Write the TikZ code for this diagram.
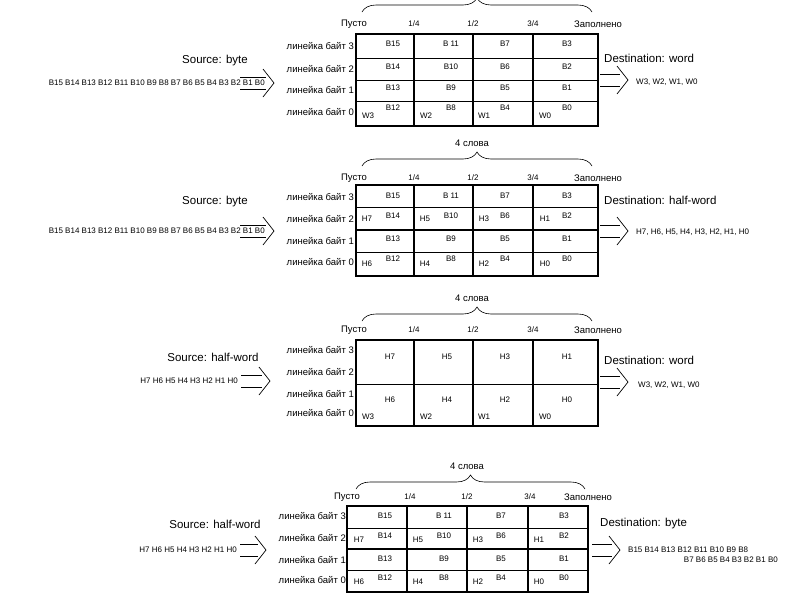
\documentclass[tikz,border=0pt]{standalone}
\usepackage{fontspec}
\setmainfont{Liberation Sans}
\usetikzlibrary{decorations.pathreplacing}
\tikzset{
 thk/.style={line width=2.4pt},
 thn/.style={line width=0.6pt},
 cell/.style={font=\fontsize{8}{9}\selectfont, inner sep=0pt},
 lab/.style={font=\fontsize{9.5}{10}\selectfont, inner sep=0pt},
 ttl/.style={font=\fontsize{11.5}{12}\selectfont, inner sep=0pt},
 brc/.style={decorate, decoration={brace, amplitude=14pt}, line width=0.6pt},
}
\newcommand\dblarr[3]{% x1,x2,y
 \draw[line width=0.7pt] (#1,#3-6) -- (#2,#3-6) (#1,#3+6) -- (#2,#3+6);
 \draw[line width=0.7pt] (#2-3,#3-14) -- (#2+8,#3) -- (#2-3,#3+14);}
\newcommand\fracs[6]{% x0 x1 x2 x3 x4 y
 \node[lab] at (#1-2,#6) {Пусто};
 \node[cell] at (#2,#6) {1/4};
 \node[cell] at (#3,#6) {1/2};
 \node[cell] at (#4,#6) {3/4};
 \node[lab] at (#5,#6) {Заполнено};}
\begin{document}
\begin{tikzpicture}[x=1pt,y=-1pt]
\clip (0,0) rectangle (785,595);
\fill[white] (0,0) rectangle (785,595);
% ================= Panel 1
\draw[brc] (362,12) -- (592,12);
\fracs{356}{414}{473}{533}{598}{24}
\foreach \y in {58,80,101}{\draw[thn] (356,\y) -- (598,\y);}
\foreach \x in {414,473,533}{\draw[thk] (\x,34) -- (\x,126);}
\draw[thk] (356,34) rectangle (598,126);
\foreach \t/\y in {3/46,2/69,1/90,0/112}{\node[lab,anchor=east] at (354,\y) {линейка байт \t};}
\foreach \a/\b/\c/\d [count=\i from 0] in {B15/B14/B13/B12, B 11/B10/B9/B8, B7/B6/B5/B4, B3/B2/B1/B0}{
 \pgfmathsetmacro\bx{{393,451,505,567}[\i]}
 \node[cell] at (\bx,44) {\a}; \node[cell] at (\bx,67) {\b};
 \node[cell] at (\bx,88) {\c}; \node[cell] at (\bx,108) {\d};}
\foreach \w/\x in {W3/368,W2/426,W1/484,W0/545}{\node[cell] at (\x,116) {\w};}
\node[ttl] at (215,61) {Source: byte};
\node[cell,anchor=east] at (265,83) {B15 B14 B13 B12 B11 B10 B9 B8 B7 B6 B5 B4 B3 B2 B1 B0};
\dblarr{240}{266}{83}
\dblarr{600}{620}{80}
\node[ttl,anchor=west] at (604,58) {Destination: word};
\node[cell,anchor=west] at (636,82) {W3, W2, W1, W0};
% ================= Panel 2
\node[lab] at (472,143) {4 слова};
\draw[brc] (362,166) -- (592,166);
\fracs{356}{414}{473}{533}{598}{178}
\foreach \y in {207,252}{\draw[thn] (356,\y) -- (598,\y);}
\draw[thk] (356,230) -- (598,230);
\foreach \x in {414,473,533}{\draw[thk] (\x,185) -- (\x,276);}
\draw[thk] (356,185) rectangle (598,276);
\foreach \t/\y in {3/197,2/219,1/241,0/262}{\node[lab,anchor=east] at (354,\y) {линейка байт \t};}
\foreach \a/\b/\c/\d [count=\i from 0] in {B15/B14/B13/B12, B 11/B10/B9/B8, B7/B6/B5/B4, B3/B2/B1/B0}{
 \pgfmathsetmacro\bx{{393,451,505,567}[\i]}
 \node[cell] at (\bx,196) {\a}; \node[cell] at (\bx,216) {\b};
 \node[cell] at (\bx,239) {\c}; \node[cell] at (\bx,259) {\d};}
\foreach \w/\v/\x in {H7/H6/367,H5/H4/425,H3/H2/484,H1/H0/545}{
 \node[cell] at (\x,219) {\w}; \node[cell] at (\x,264) {\v};}
\node[ttl] at (215,202) {Source: byte};
\node[cell,anchor=east] at (265,231) {B15 B14 B13 B12 B11 B10 B9 B8 B7 B6 B5 B4 B3 B2 B1 B0};
\dblarr{240}{266}{231}
\dblarr{600}{620}{231}
\node[ttl,anchor=west] at (604,200) {Destination: half-word};
\node[cell,anchor=west] at (636,232) {H7, H6, H5, H4, H3, H2, H1, H0};
% ================= Panel 3
\node[lab] at (472,298) {4 слова};
\draw[brc] (362,321) -- (592,321);
\fracs{356}{414}{473}{533}{598}{330}
\draw[thn] (356,384) -- (598,384);
\foreach \x in {414,473,533}{\draw[thk] (\x,340) -- (\x,426);}
\draw[thk] (356,340) rectangle (598,426);
\foreach \t/\y in {3/350,2/372,1/394,0/413}{\node[lab,anchor=east] at (354,\y) {линейка байт \t};}
\foreach \a/\b/\x in {H7/H6/390,H5/H4/447,H3/H2/505,H1/H0/567}{
 \node[cell] at (\x,357) {\a}; \node[cell] at (\x,400) {\b};}
\foreach \w/\x in {W3/368,W2/426,W1/484,W0/545}{\node[cell] at (\x,417) {\w};}
\node[ttl] at (213,357) {Source: half-word};
\node[cell,anchor=east] at (238,381) {H7 H6 H5 H4 H3 H2 H1 H0};
\dblarr{241}{262}{381}
\dblarr{600}{620}{382}
\node[ttl,anchor=west] at (604,360) {Destination: word};
\node[cell,anchor=west] at (638,385) {W3, W2, W1, W0};
% ================= Panel 4
\node[lab] at (467,466) {4 слова};
\draw[brc] (356,489) -- (585,489);
\fracs{349}{410}{467}{530}{588}{497}
\foreach \y in {528,570}{\draw[thn] (347,\y) -- (588,\y);}
\draw[thk] (347,549) -- (588,549);
\foreach \x in {407,467,528}{\draw[thk] (\x,506) -- (\x,592);}
\draw[thk] (347,506) rectangle (588,592);
\foreach \t/\y in {3/516,2/538,1/560,0/580}{\node[lab,anchor=east] at (346,\y) {линейка байт \t};}
\foreach \a/\b/\c/\d [count=\i from 0] in {B15/B14/B13/B12, B 11/B10/B9/B8, B7/B6/B5/B4, B3/B2/B1/B0}{
 \pgfmathsetmacro\bx{{385,444,501,564}[\i]}
 \node[cell] at (\bx,516) {\a}; \node[cell] at (\bx,536) {\b};
 \node[cell] at (\bx,559) {\c}; \node[cell] at (\bx,578) {\d};}
\foreach \w/\v/\x in {H7/H6/359,H5/H4/418,H3/H2/478,H1/H0/539}{
 \node[cell] at (\x,540) {\w}; \node[cell] at (\x,582) {\v};}
\node[ttl] at (215,524) {Source: half-word};
\node[cell,anchor=east] at (237,550) {H7 H6 H5 H4 H3 H2 H1 H0};
\dblarr{240}{258}{550}
\dblarr{592}{612}{550}
\node[ttl,anchor=west] at (600,524) {Destination: byte};
\node[cell,anchor=west] at (628,550) {B15 B14 B13 B12 B11 B10 B9 B8};
\node[cell,anchor=east] at (778,560) {B7 B6 B5 B4 B3 B2 B1 B0};
\end{tikzpicture}
\end{document}
